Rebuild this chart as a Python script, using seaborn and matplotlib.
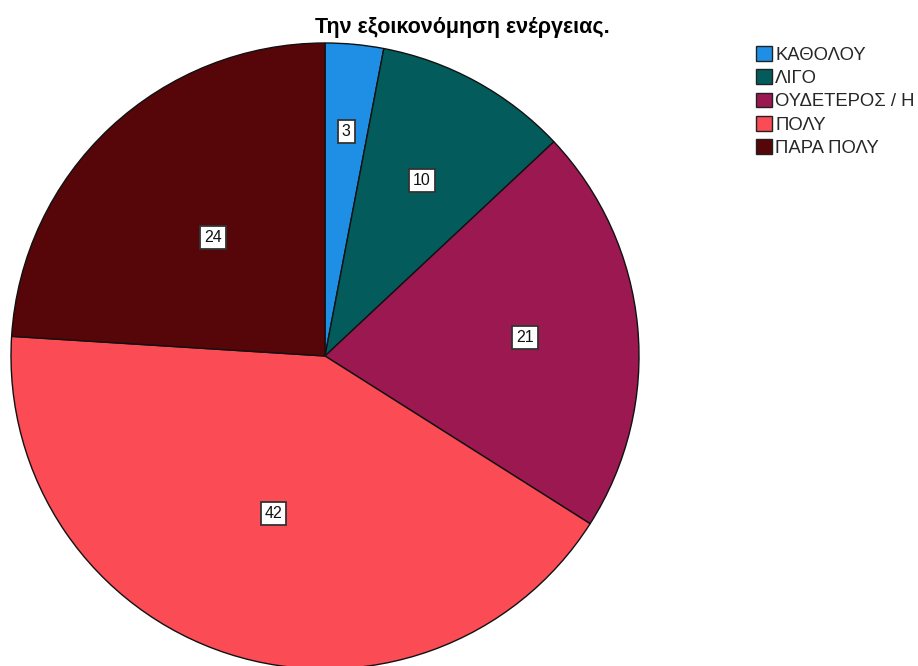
import numpy as np
import matplotlib
matplotlib.use("Agg")
import matplotlib.pyplot as plt
import seaborn as sns
from matplotlib.patches import Patch

categories = ["ΚΑΘΟΛΟΥ", "ΛΙΓΟ", "ΟΥΔΕΤΕΡΟΣ / Η", "ΠΟΛΥ", "ΠΑΡΑ ΠΟΛΥ"]
values = [3, 10, 21, 42, 24]
colors = ["#1f8fe6", "#035c5b", "#9b1850", "#fb4b55", "#560508"]
title = "Την εξοικονόμηση ενέργειας."

sns.set_theme(style="white")
plt.rcParams['font.family'] = ['Liberation Sans', 'DejaVu Sans']

fig = plt.figure(figsize=(9.18, 6.66), dpi=100)
fig.patch.set_facecolor("white")
ax = fig.add_axes([11/918, -3/666, 628/918, 626/666])
wedges, _ = ax.pie(values, colors=colors, startangle=90, counterclock=False,
                   radius=1, wedgeprops=dict(edgecolor="#111111", linewidth=1.0))
ax.set_xlim(-1, 1)
ax.set_ylim(-1, 1)
ax.set_aspect("auto")
ax.axis("off")

label_r = [0.72, 0.64, 0.64, 0.53, 0.52]
for w, v, r in zip(wedges, values, label_r):
    ang = np.deg2rad((w.theta1 + w.theta2) / 2)
    ax.text(r*np.cos(ang), r*np.sin(ang), str(v), ha="center", va="center",
            fontsize=11.5, color="#111111",
            bbox=dict(boxstyle="square,pad=0.25", facecolor="white",
                      edgecolor="#333333", linewidth=1.3))

fig.text(462/918, 1 - 28/666, title, ha="center", va="center",
         fontsize=15.5, fontweight="bold", color="black")

handles = [Patch(facecolor=c, edgecolor="#222222", linewidth=1.0) for c in colors]
fig.legend(handles, categories, loc="upper left",
           bbox_to_anchor=(756/918, 1 - 46/666), frameon=False,
           fontsize=13.3, handlelength=0.85, handleheight=0.85,
           handletextpad=0.2, labelspacing=0.3, borderpad=0, borderaxespad=0)

fig.savefig("out.png", dpi=100, facecolor="white")
